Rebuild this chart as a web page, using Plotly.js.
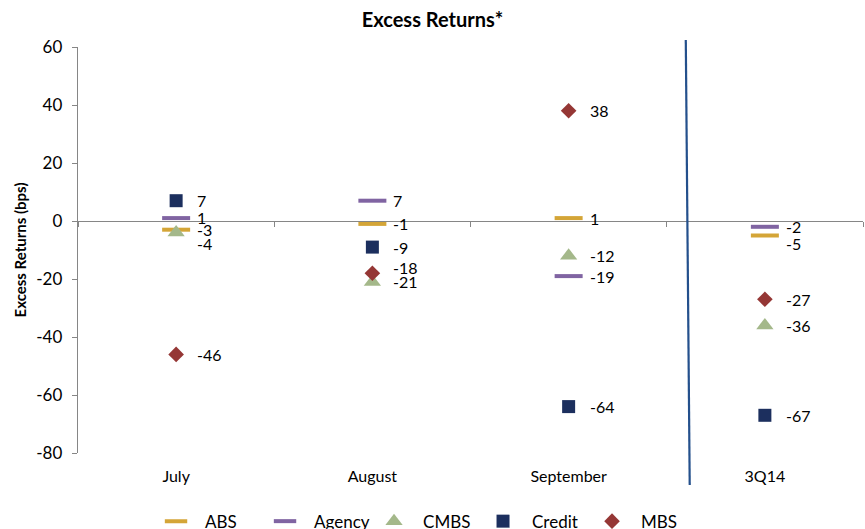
<!DOCTYPE html>
<html>
<head>
<meta charset="utf-8">
<script src="https://cdn.plot.ly/plotly-3.0.1.min.js"></script>
<style>html,body{margin:0;padding:0;background:#fff;}#chart{width:865px;height:529px;}</style>
</head>
<body>
<div id="chart"></div>
<script>
var categories = ["July", "August", "September", "3Q14"];
var seriesNames = ["ABS", "Agency", "CMBS", "Credit", "MBS"];
var absVals = [-3, -1, 1, -5];
var agencyVals = [1, 7, -19, -2];
var cmbsVals = [-4, -21, -12, -36];
var creditVals = [7, -9, -64, -67];
var mbsVals = [-46, -18, 38, -27];
var yTickVals = [-80, -60, -40, -20, 0, 20, 40, 60];
var yTickText = ["-80", "-60", "-40", "-20", "0", "20", "40", "60"];
// label nudges (px) to avoid overlaps, as in the original
var absLabelShift = [0, 0, 0, -8];
var agencyLabelShift = [1, 0, 0, 0];
var cmbsLabelShift = [-11, 0, 0, 0];
var creditLabelShift = [0, 0, 0, 0];
var mbsLabelShift = [0, 6, 0, 0];

var FONT = "Lato, 'Open Sans', sans-serif";
var xIdx = categories.map(function(c, i){ return i; });

var styles = [
  {name: "ABS", vals: absVals, shift: absLabelShift, marker: {symbol: "line-ew", size: 20, color: "#D4A537", line: {width: 4, color: "#D4A537"}}},
  {name: "Agency", vals: agencyVals, shift: agencyLabelShift, marker: {symbol: "line-ew", size: 20, color: "#8064A2", line: {width: 4, color: "#8064A2"}}},
  {name: "CMBS", vals: cmbsVals, shift: cmbsLabelShift, marker: {symbol: "triangle-up", size: 15, color: "#A4B88A", line: {width: 0}}},
  {name: "Credit", vals: creditVals, shift: creditLabelShift, marker: {symbol: "square", size: 13, color: "#1C2F5E", line: {width: 0}}},
  {name: "MBS", vals: mbsVals, shift: mbsLabelShift, marker: {symbol: "diamond", size: 12, color: "#953735", line: {width: 0}}}
];

var traces = [];
var annotations = [];
styles.forEach(function(s){
  traces.push({
    type: "scatter", mode: "markers", name: s.name,
    x: xIdx, y: s.vals, marker: s.marker,
    hoverinfo: "x+y"
  });
  s.vals.forEach(function(v, i){
    annotations.push({
      x: xIdx[i], y: v, xref: "x", yref: "y",
      text: String(v), showarrow: false,
      xanchor: "left", yanchor: "middle",
      xshift: 19, yshift: s.shift[i],
      font: {family: FONT, size: 16, color: "#000"}
    });
  });
});
// dummy trace for the zero-line category axis
traces.push({type: "scatter", x: [-0.5, 3.5], y: [0, 0], xaxis: "x2", yaxis: "y",
  mode: "lines", line: {width: 0, color: "rgba(0,0,0,0)"}, showlegend: false, hoverinfo: "skip"});

var layout = {
  width: 865, height: 529,
  margin: {l: 78, r: 2, t: 47, b: 76, autoexpand: false},
  paper_bgcolor: "#fff", plot_bgcolor: "#fff",
  font: {family: FONT, size: 15, color: "#000"},
  title: {text: "<b>Excess Returns*</b>", x: 0.5, xanchor: "center", y: 0.962, yanchor: "middle",
    font: {family: FONT, size: 20, color: "#000"}},
  showlegend: true,
  legend: {orientation: "h", x: 0.485, xanchor: "center", xref: "container", yref: "container",
    y: 0.014, yanchor: "middle",
    font: {family: FONT, size: 17, color: "#000"}, itemwidth: 48, entrywidth: 46, tracegroupgap: 0},
  xaxis: {
    range: [-0.5, 3.5], tickvals: xIdx, ticktext: categories,
    showgrid: false, zeroline: false, showline: false, ticks: "",
    tickfont: {family: FONT, size: 16, color: "#000"}, ticklabelstandoff: 12, fixedrange: true
  },
  xaxis2: {
    overlaying: "x", anchor: "free", position: 80/140, side: "bottom",
    range: [-0.5, 3.5], tickvals: [-0.5, 0.5, 1.5, 2.5, 3.5],
    showticklabels: false, ticks: "outside", ticklen: 5, tickcolor: "#868686",
    showline: true, linecolor: "#868686", linewidth: 1.3,
    showgrid: false, zeroline: false
  },
  yaxis: {
    range: [-80, 60], tickvals: yTickVals, ticktext: yTickText,
    showgrid: false, zeroline: false, showline: true, linecolor: "#868686", linewidth: 1.3,
    ticks: "outside", ticklen: 5, tickcolor: "#868686",
    tickfont: {family: FONT, size: 17, color: "#000"}, ticklabelstandoff: 6,
    title: {text: "<b>Excess Returns (bps)</b>", font: {family: FONT, size: 15, color: "#000"}, standoff: 6}
  },
  annotations: annotations,
  shapes: [{
    type: "line", xref: "x", yref: "paper",
    x0: 2.597, x1: 2.617, y0: 1.017, y1: -0.079,
    line: {color: "#24508C", width: 2.2}
  }]
};

Plotly.newPlot("chart", traces, layout, {displayModeBar: false, staticPlot: true});
</script>
</body>
</html>
